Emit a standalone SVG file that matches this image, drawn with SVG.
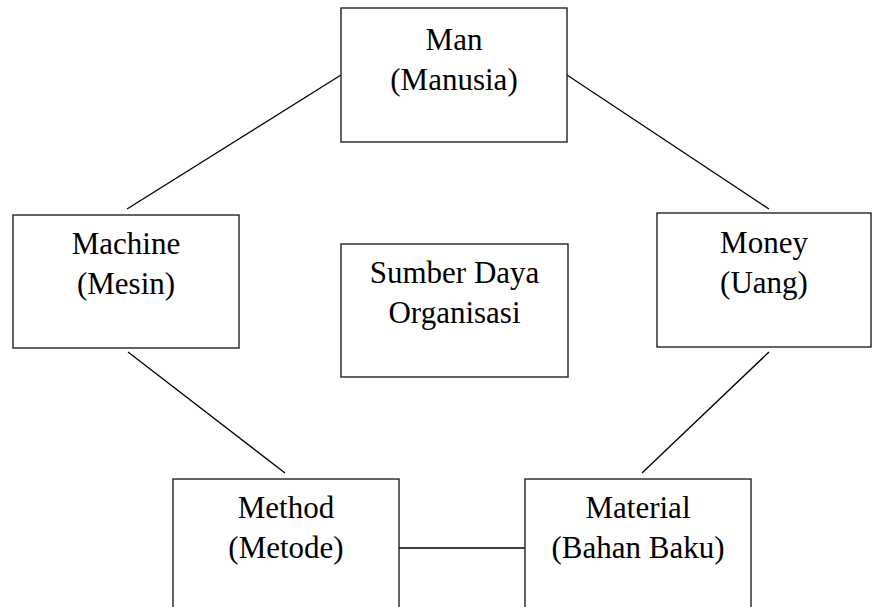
<svg xmlns="http://www.w3.org/2000/svg" width="872" height="607" viewBox="0 0 872 607">
<style>
.box{fill:#fff;stroke:#222;stroke-width:1.4}
.t{font-family:'Liberation Serif','Times New Roman',serif;font-size:31px;fill:#000;text-anchor:middle}
.c{stroke:#000;stroke-width:1.3;fill:none}
</style>
<rect width="872" height="607" fill="#fff"/>
<g id="connectors">
<line class="c" x1="341" y1="75" x2="127" y2="209"/>
<line class="c" x1="567" y1="75" x2="769" y2="209"/>
<line class="c" x1="128" y1="352" x2="285" y2="473"/>
<line class="c" x1="769" y1="352" x2="642" y2="473"/>
<line class="c" x1="399" y1="548" x2="525" y2="548"/>
</g>
<g id="man">
<rect class="box" x="341" y="8" width="226" height="134"/>
<text class="t" x="454" y="50">Man</text>
<text class="t" x="454" y="90">(Manusia)</text>
</g>
<g id="machine">
<rect class="box" x="13" y="215" width="226" height="133"/>
<text class="t" x="126" y="254">Machine</text>
<text class="t" x="126" y="294">(Mesin)</text>
</g>
<g id="money">
<rect class="box" x="657" y="213" width="214" height="134"/>
<text class="t" x="764" y="253">Money</text>
<text class="t" x="764" y="293">(Uang)</text>
</g>
<g id="center">
<rect class="box" x="341" y="244" width="227" height="133"/>
<text class="t" x="454.5" y="283">Sumber Daya</text>
<text class="t" x="454.5" y="323">Organisasi</text>
</g>
<g id="method">
<rect class="box" x="173" y="479" width="226" height="140"/>
<text class="t" x="286" y="518">Method</text>
<text class="t" x="286" y="558">(Metode)</text>
</g>
<g id="material">
<rect class="box" x="525" y="479" width="226" height="140"/>
<text class="t" x="638" y="518">Material</text>
<text class="t" x="638" y="558">(Bahan Baku)</text>
</g>
</svg>
